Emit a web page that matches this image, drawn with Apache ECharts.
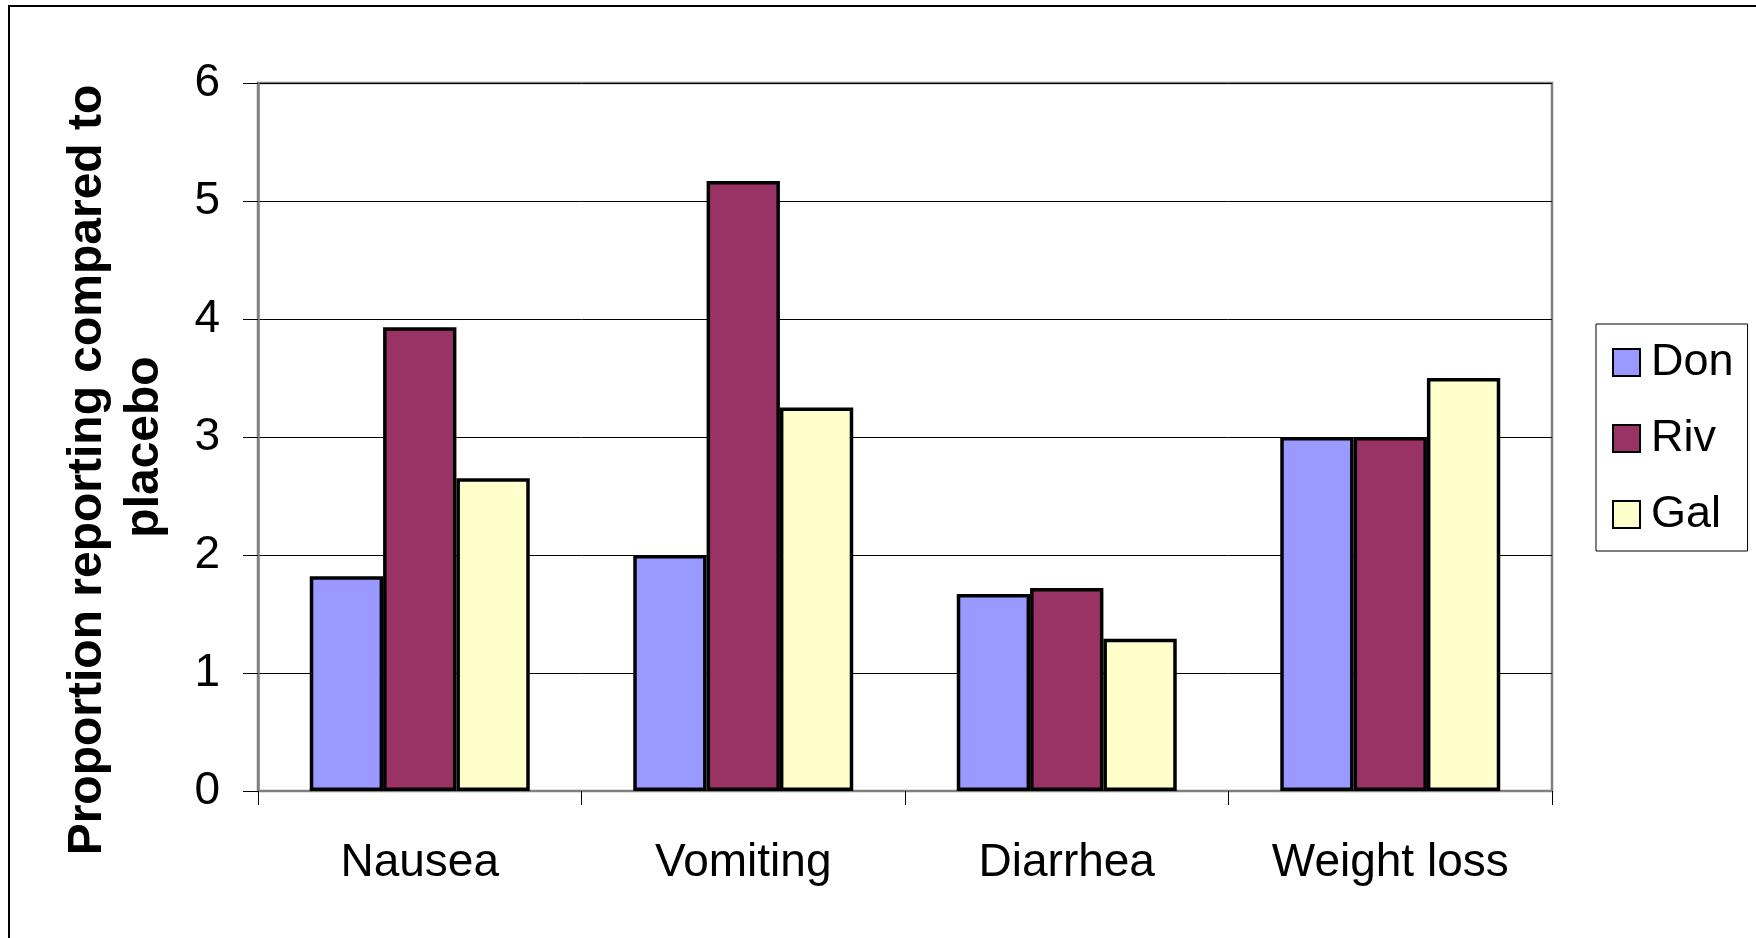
<!DOCTYPE html>
<html>
<head>
<meta charset="utf-8">
<script src="https://cdn.jsdelivr.net/npm/echarts@6/dist/echarts.min.js"></script>
<style>
html,body{margin:0;padding:0;background:#fff;}
#chart{width:1756px;height:938px;}
</style>
</head>
<body>
<div id="chart"></div>
<script>
const categories = ['Nausea', 'Vomiting', 'Diarrhea', 'Weight loss'];
const seriesNames = ['Don', 'Riv', 'Gal'];
const donValues = [1.82, 2.00, 1.67, 3.00];
const rivValues = [3.93, 5.17, 1.72, 3.00];
const galValues = [2.65, 3.25, 1.29, 3.50];
const yTicks = [0, 1, 2, 3, 4, 5, 6];
const titleLine1 = 'Proportion reporting compared to';
const titleLine2 = 'placebo';

const colors = ['#9999FF', '#993366', '#FFFFCC'];
const FONT = "'Liberation Sans', Arial, sans-serif";
const values = [donValues, rivValues, galValues];

const chart = echarts.init(document.getElementById('chart'));
chart.setOption({
  animation: false,
  backgroundColor: '#fff',
  grid: {
    left: 258, right: 204, top: 83, bottom: 147,
    show: true, borderColor: '#808080', borderWidth: 2.5, backgroundColor: 'transparent'
  },
  legend: {
    data: seriesNames,
    orient: 'vertical',
    left: 1596, top: 324,
    itemWidth: 27, itemHeight: 27, itemGap: 31,
    icon: 'rect',
    padding: [16, 14, 14, 16],
    borderColor: '#000', borderWidth: 1,
    selectedMode: false,
    textStyle: { fontFamily: FONT, fontSize: 45, color: '#000', padding: [0, 0, 0, 6] }
  },
  xAxis: {
    type: 'category',
    data: categories,
    boundaryGap: true,
    axisLine: { show: true, lineStyle: { color: '#808080', width: 2 } },
    axisTick: { show: true, length: 14, lineStyle: { color: '#000', width: 1 } },
    axisLabel: { fontFamily: FONT, fontSize: 46, color: '#000', margin: 49 },
    splitLine: { show: false }
  },
  yAxis: {
    type: 'value',
    min: yTicks[0], max: yTicks[yTicks.length - 1], interval: 1,
    axisLine: { show: true, lineStyle: { color: '#808080', width: 2.5 } },
    axisTick: { show: true, length: 15, lineStyle: { color: '#000', width: 1 } },
    axisLabel: { fontFamily: FONT, fontSize: 46, color: '#000', margin: 38 },
    splitLine: { show: true, lineStyle: { color: '#000', width: 1 } }
  },
  series: seriesNames.map((name, i) => ({
    name: name,
    type: 'bar',
    data: values[i],
    barGap: '0%',
    barCategoryGap: '32%',
    itemStyle: { color: colors[i], borderColor: '#000', borderWidth: 3.5 }
  })),
  graphic: [
    {
      type: 'rect', silent: true, z: 100,
      shape: { x: 9, y: 6, width: 1800, height: 1000 },
      style: { fill: null, stroke: '#000', lineWidth: 2 }
    },
    {
      type: 'text', x: 88, y: 470, rotation: Math.PI / 2,
      style: { text: titleLine1, fontFamily: FONT, fontSize: 48, fontWeight: 'bold', fill: '#000',
               textAlign: 'center', textVerticalAlign: 'middle' }
    },
    {
      type: 'text', x: 145, y: 447, rotation: Math.PI / 2,
      style: { text: titleLine2, fontFamily: FONT, fontSize: 48, fontWeight: 'bold', fill: '#000',
               textAlign: 'center', textVerticalAlign: 'middle' }
    }
  ]
});
</script>
</body>
</html>
